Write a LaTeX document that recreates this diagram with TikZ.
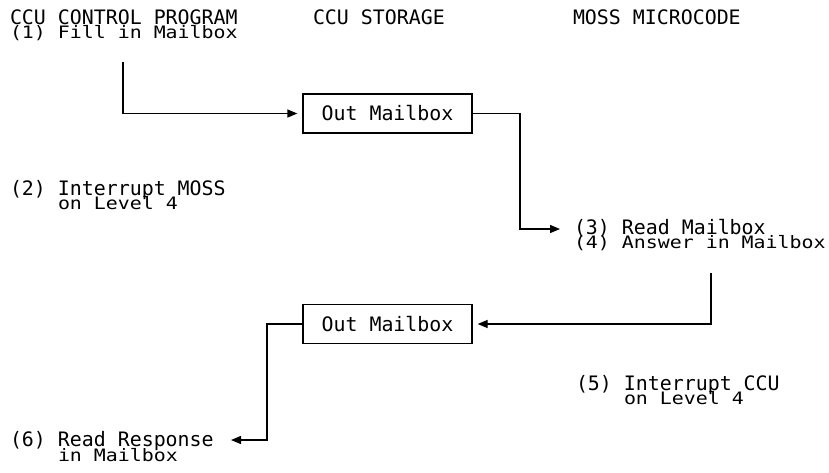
\documentclass[tikz,border=0pt]{standalone}
\usepackage{fontspec}
\newfontfamily\monofnt{DejaVu Sans Mono}
\usetikzlibrary{arrows.meta}
\newcommand{\sqline}[1]{\scalebox{1}[0.86]{#1}}
\tikzset{
  txt/.style={anchor=base west, inner sep=0pt, outer sep=0pt, font=\monofnt\fontsize{19.9}{20}\selectfont},
  mbox/.style={draw, line width=1.3pt, minimum width=169pt, minimum height=39pt, inner sep=0pt, font=\monofnt\fontsize{19.9}{20}\selectfont},
  arr/.style={line width=1.3pt, -{Triangle[length=10pt,width=8pt]}, shorten >=5pt},
}
\begin{document}
\begin{tikzpicture}[x=1pt,y=-1pt]
\useasboundingbox (0,0) rectangle (829,472);
% headings
\node[txt] (h1) at (10,24) {CCU CONTROL PROGRAM};
\node[txt] (h2) at (313,24) {CCU STORAGE};
\node[txt] (h3) at (573,24) {MOSS MICROCODE};
% step texts
\node[txt] (t1) at (10,38) {\sqline{(1) Fill in Mailbox}};
\node[txt] (t2a) at (10,195) {(2) Interrupt MOSS};
\node[txt] (t2b) at (58,209) {\sqline{on Level 4}};
\node[txt] (t3a) at (574,234) {(3) Read Mailbox};
\node[txt] (t3b) at (574,248) {\sqline{(4) Answer in Mailbox}};
\node[txt] (t5a) at (576,390) {(5) Interrupt CCU};
\node[txt] (t5b) at (624,404) {\sqline{on Level 4}};
\node[txt] (t6a) at (10,446) {(6) Read Response};
\node[txt] (t6b) at (58,461) {\sqline{in Mailbox}};
% boxes
\node[mbox] (b1) at (387.5,113.5) {Out Mailbox};
\node[mbox] (b2) at (387.5,324) {Out Mailbox};
% coordinates
\coordinate (s1) at (123,62);
\coordinate (k2) at (520,229);
\coordinate (e2) at (565,229);
\coordinate (s3) at (711,273);
\coordinate (k4) at (267,440);
\coordinate (e4) at (226,440);
% connectors
\draw[arr] (s1) |- (b1);
\draw[arr] (b1.east) -| (k2) -- (e2);
\draw[arr] (s3) |- (b2);
\draw[arr] (b2.west) -| (k4) -- (e4);
\end{tikzpicture}
\end{document}
